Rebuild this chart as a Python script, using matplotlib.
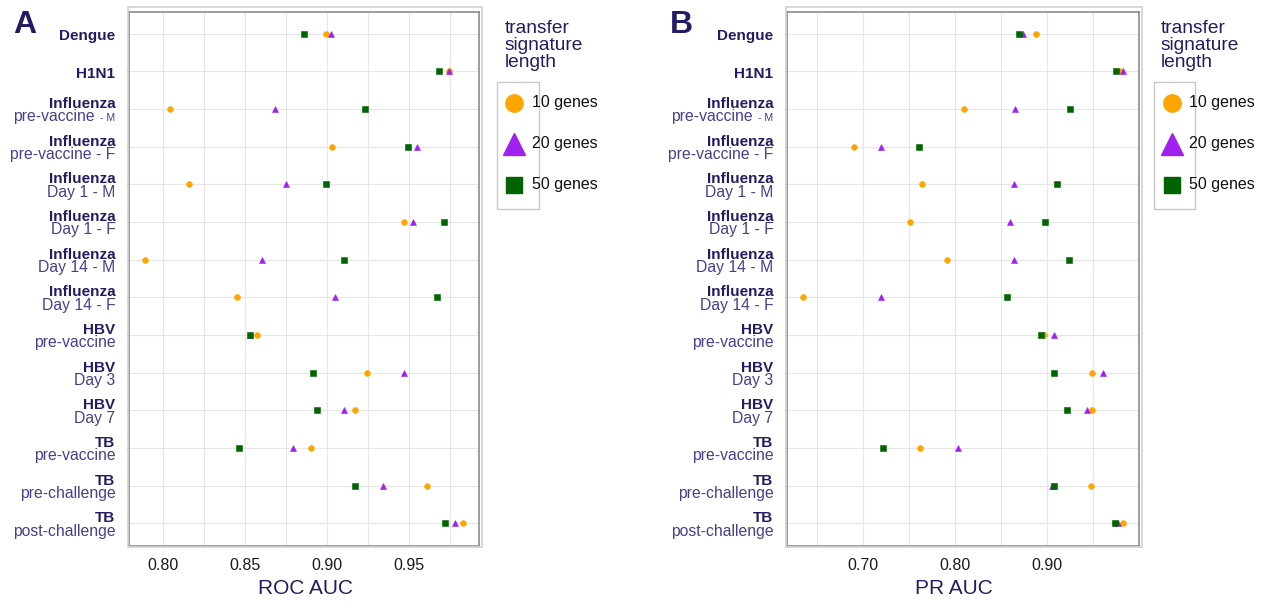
import matplotlib
matplotlib.use('Agg')
import matplotlib.pyplot as plt
from matplotlib.patches import Rectangle
from matplotlib.lines import Line2D
from matplotlib.ticker import MultipleLocator

plt.rcParams['font.family'] = ['Liberation Sans', 'DejaVu Sans']

# row labels (bold first line, light second line, small suffix)
label_top = ['Dengue', 'H1N1', 'Influenza', 'Influenza', 'Influenza', 'Influenza',
             'Influenza', 'Influenza', 'HBV', 'HBV', 'HBV', 'TB', 'TB', 'TB']
label_bottom = ['', '', 'pre-vaccine', 'pre-vaccine - F', 'Day 1 - M', 'Day 1 - F',
                'Day 14 - M', 'Day 14 - F', 'pre-vaccine', 'Day 3', 'Day 7',
                'pre-vaccine', 'pre-challenge', 'post-challenge']
label_suffix = ['', '', '- M', '', '', '', '', '', '', '', '', '', '', '']

series_names = ['10 genes', '20 genes', '50 genes']

roc_10 = [0.899, 0.974, 0.804, 0.903, 0.816, 0.947, 0.789, 0.845, 0.857, 0.924, 0.917, 0.890, 0.961, 0.983]
roc_20 = [0.902, 0.974, 0.868, 0.955, 0.875, 0.952, 0.860, 0.905, 0.853, 0.947, 0.910, 0.879, 0.934, 0.978]
roc_50 = [0.886, 0.968, 0.923, 0.949, 0.899, 0.971, 0.910, 0.967, 0.853, 0.891, 0.894, 0.846, 0.917, 0.972]

pr_10 = [0.888, 0.979, 0.809, 0.690, 0.764, 0.751, 0.791, 0.635, 0.896, 0.949, 0.949, 0.762, 0.947, 0.982]
pr_20 = [0.874, 0.982, 0.865, 0.719, 0.864, 0.859, 0.864, 0.719, 0.907, 0.960, 0.943, 0.803, 0.905, 0.977]
pr_50 = [0.869, 0.975, 0.925, 0.760, 0.910, 0.898, 0.924, 0.856, 0.893, 0.907, 0.921, 0.721, 0.907, 0.974]

colors = ['#ffa500', '#a020f0', '#006400']
markers = ['o', '^', 's']
sizes = [4.2, 4.6, 4.0]

navy = '#221d62'
light_navy = '#463f8c'

W, H = 1266, 603
fig = plt.figure(figsize=(W / 100, H / 100), dpi=100)


def fx(px):
    return px / W


def fy(py):
    return 1 - py / H


def draw_panel(left, right, xlim, major, minor, series, xlabel, xlabel_px, letter, letter_px, leg_px):
    top, bottom = 11.7, 545.5
    ax = fig.add_axes([fx(left), fy(bottom), fx(right - left), (bottom - top) / H])
    rows = list(range(len(label_top)))

    for vals, c, m, s in zip(series, colors, markers, sizes):
        ax.plot(vals, rows, linestyle='none', marker=m, color=c, markersize=s,
                markeredgewidth=0.4, markeredgecolor=c, zorder=3)

    ax.set_xlim(*xlim)
    ax.set_ylim(len(rows) - 1 + 0.589, -0.579)
    ax.xaxis.set_major_locator(MultipleLocator(major))
    ax.xaxis.set_minor_locator(MultipleLocator(minor))
    ax.xaxis.set_major_formatter(plt.FormatStrFormatter('%.2f'))
    ax.set_yticks(rows)
    ax.set_yticklabels([])
    ax.grid(True, which='both', axis='x', color='#e6e6e6', linewidth=0.8)
    ax.grid(True, which='major', axis='y', color='#e6e6e6', linewidth=0.8)
    ax.tick_params(axis='x', which='both', length=0, pad=9, labelsize=11.5, labelcolor='#1a1a1a')
    ax.tick_params(axis='y', length=2, color='#d8d8d8')
    for sp in ax.spines.values():
        sp.set_color('#8c8c8c')
        sp.set_linewidth(1.2)

    for i in rows:
        if label_bottom[i] == '':
            ax.annotate(label_top[i], xy=(0, i), xycoords=('axes fraction', 'data'),
                        xytext=(-10, -5), textcoords='offset points', ha='right', va='baseline',
                        fontsize=11, fontweight='bold', color=navy)
        else:
            ax.annotate(label_top[i], xy=(0, i), xycoords=('axes fraction', 'data'),
                        xytext=(-10, 0.6), textcoords='offset points', ha='right', va='baseline',
                        fontsize=11, fontweight='bold', color=navy)
            if label_suffix[i]:
                ax.annotate(label_suffix[i], xy=(0, i), xycoords=('axes fraction', 'data'),
                            xytext=(-10, -9), textcoords='offset points', ha='right', va='baseline',
                            fontsize=7.5, color=light_navy)
                xoff = -25
            else:
                xoff = -10
            ax.annotate(label_bottom[i], xy=(0, i), xycoords=('axes fraction', 'data'),
                        xytext=(xoff, -9), textcoords='offset points', ha='right', va='baseline',
                        fontsize=11.3, color=light_navy)

    ax.set_xlabel(xlabel, fontsize=15, color=navy)
    ax.xaxis.set_label_coords((xlabel_px - left) / (right - left), (bottom - 589) / (bottom - top))
    ax.xaxis.label.set_va('center')

    # outer light frame
    fig.add_artist(Rectangle((fx(left - 1.8), fy(547.3)), fx(right - left + 5), (547.3 - 7.3) / H,
                             transform=fig.transFigure, fill=False, edgecolor='#d2d2d2', linewidth=1.2))

    fig.text(fx(letter_px), fy(33.3), letter, fontsize=23, fontweight='bold', color=navy,
             ha='left', va='baseline')

    # legend
    bx0, bx1, mx, tx, titlex = leg_px
    fig.text(fx(titlex), fy(20), 'transfer\nsignature\nlength', fontsize=13.8, color=navy,
             ha='left', va='top', linespacing=1.0)
    fig.add_artist(Rectangle((fx(bx0), fy(209.3)), fx(bx1 - bx0), (209.3 - 82.3) / H,
                             transform=fig.transFigure, fill=False, edgecolor='#c8c8c8', linewidth=1.0))
    leg_y = [102.7, 143.7, 185.0]
    leg_ms = [12.5, 16.3, 12.0]
    for name, c, m, ms, y in zip(series_names, colors, markers, leg_ms, leg_y):
        fig.add_artist(Line2D([fx(mx)], [fy(y)], marker=m, color=c, markersize=ms,
                              linestyle='none', transform=fig.transFigure))
        fig.text(fx(tx), fy(y), name, fontsize=11.5, color='#111111', ha='left', va='center')
    return ax


draw_panel(129.3, 479.0, (0.7793, 0.9925), 0.05, 0.025, [roc_10, roc_20, roc_50],
           'ROC AUC', 305, 'A', 13, (497.3, 538.7, 514.3, 531.7, 505))
draw_panel(787.3, 1138.7, (0.6174, 0.9993), 0.10, 0.05, [pr_10, pr_20, pr_50],
           'PR AUC', 954, 'B', 670, (1154, 1195, 1171.7, 1189, 1161))

fig.savefig('out.png', dpi=100)
